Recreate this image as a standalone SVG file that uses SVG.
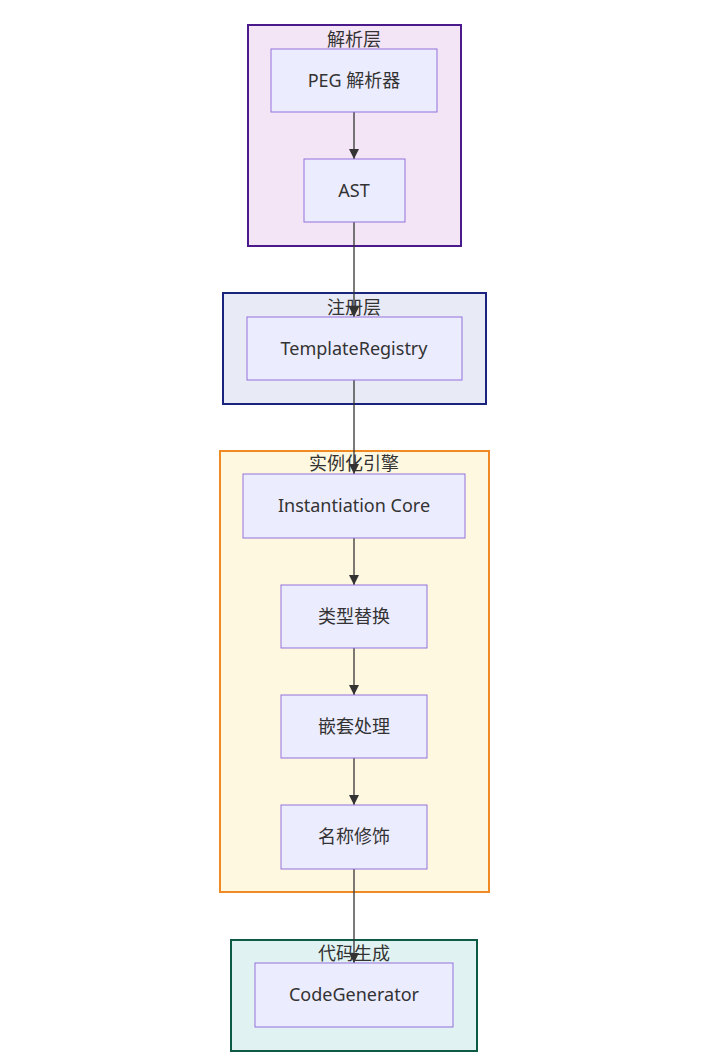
<svg xmlns="http://www.w3.org/2000/svg" width="721" height="1063" viewBox="0 0 721 1063">
<style>
text{font-family:"Noto Sans","Noto Sans CJK SC",sans-serif;font-size:18px;fill:#333;text-anchor:middle;dominant-baseline:central}
.cl{stroke-width:2}
.nd{fill:#ececff;stroke:#9370db;stroke-width:1}
.ed{stroke:#333;stroke-width:1.3;fill:none;marker-end:url(#ah)}
</style>
<defs>
<marker id="ah" viewBox="0 0 10 10" refX="10" refY="5" markerWidth="10" markerHeight="10" markerUnits="userSpaceOnUse" orient="auto">
<path d="M0,0 L10,5 L0,10 z" fill="#333"/>
</marker>
</defs>
<rect width="721" height="1063" fill="#fff"/>
<g id="clusters">
<g id="c-parse"><rect class="cl" x="248" y="25" width="213" height="221" fill="#f3e5f5" stroke="#4a1a8c"/><text x="354" y="39">解析层</text></g>
<g id="c-reg"><rect class="cl" x="223" y="293" width="263" height="111" fill="#e8eaf6" stroke="#1a237e"/><text x="354" y="307">注册层</text></g>
<g id="c-inst"><rect class="cl" x="220" y="451" width="269" height="441" fill="#fff8e1" stroke="#f08a24"/><text x="354" y="463">实例化引擎</text></g>
<g id="c-gen"><rect class="cl" x="231" y="940" width="246" height="111" fill="#e0f2f1" stroke="#0d5a45"/><text x="354" y="953">代码生成</text></g>
</g>
<g id="edges">
<line class="ed" x1="354" y1="112" x2="354" y2="159"/>
<line class="ed" x1="354" y1="222" x2="354" y2="317"/>
<line class="ed" x1="354" y1="380" x2="354" y2="474"/>
<line class="ed" x1="354" y1="538" x2="354" y2="585"/>
<line class="ed" x1="354" y1="648" x2="354" y2="695"/>
<line class="ed" x1="354" y1="758" x2="354" y2="805"/>
<line class="ed" x1="354" y1="869" x2="354" y2="963"/>
</g>
<g id="n-peg"><rect class="nd" x="271" y="49" width="166" height="63"/><text x="354" y="80">PEG 解析器</text></g>
<g id="n-ast"><rect class="nd" x="304" y="159" width="101" height="63"/><text x="354" y="190">AST</text></g>
<g id="n-reg"><rect class="nd" x="247" y="317" width="215" height="63"/><text x="354" y="348">TemplateRegistry</text></g>
<g id="n-core"><rect class="nd" x="243" y="474" width="222" height="64"/><text x="354" y="505">Instantiation Core</text></g>
<g id="n-type"><rect class="nd" x="281" y="585" width="146" height="63"/><text x="354" y="616">类型替换</text></g>
<g id="n-nest"><rect class="nd" x="281" y="695" width="146" height="63"/><text x="354" y="726">嵌套处理</text></g>
<g id="n-name"><rect class="nd" x="281" y="805" width="146" height="64"/><text x="354" y="836">名称修饰</text></g>
<g id="n-gen"><rect class="nd" x="255" y="963" width="198" height="64"/><text x="354" y="994">CodeGenerator</text></g>
</svg>
